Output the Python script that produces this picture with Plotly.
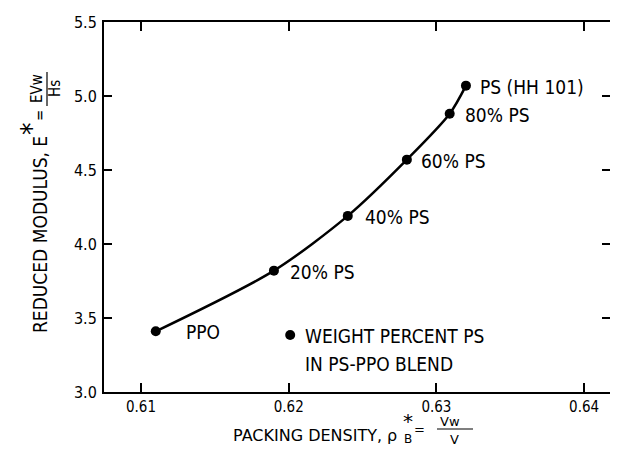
import plotly.graph_objects as go

# ---- data ----
packing_density = [0.611, 0.619, 0.624, 0.628, 0.6309, 0.632]
reduced_modulus = [3.41, 3.82, 4.19, 4.57, 4.88, 5.07]
point_labels = ["PPO", "20% PS", "40% PS", "60% PS", "80% PS", "PS (HH 101)"]
legend_x = [0.6201]
legend_y = [3.385]
legend_lines = ["WEIGHT PERCENT PS", "IN PS-PPO BLEND"]
x_ticks = [0.61, 0.62, 0.63, 0.64]
x_tick_text = ["0.61", "0.62", "0.63", "0.64"]
y_ticks = [3.0, 3.5, 4.0, 4.5, 5.0, 5.5]
y_tick_text = ["3.0", "3.5", "4.0", "4.5", "5.0", "5.5"]

# ---- layout geometry (page has an 8px body margin; visible width ends at 610) ----
OFF = 8
W, H = 610 - OFF, 476 - 2 * OFF
ML, MT = 104 - OFF, 22 - OFF
MR = 0
MB = H - (392 - OFF)
PW, PH = W - ML - MR, H - MT - MB


def px(x):  # page pixel -> paper
    return (x - 104) / PW


def py(y):
    return (392 - y) / PH


LBL = "DejaVu Sans Condensed"
TTL = "DejaVu Sans"
label_shift = [28, 14, 15, 12, 13, 12]

fig = go.Figure()
fig.add_trace(go.Scatter(
    x=packing_density, y=reduced_modulus, mode="lines+markers",
    line=dict(color="black", width=2.5, shape="spline", smoothing=0.8),
    marker=dict(color="black", size=10), showlegend=False, hoverinfo="skip"))
fig.add_trace(go.Scatter(
    x=legend_x, y=legend_y, mode="markers", yaxis="y2",
    marker=dict(color="black", size=10), showlegend=False, hoverinfo="skip"))

ann = []
for xv, yv, t, s in zip(packing_density, reduced_modulus, point_labels, label_shift):
    ann.append(dict(x=xv, y=yv, text=t, showarrow=False, xanchor="left",
                    yanchor="middle", xshift=s, yshift=-1,
                    font=dict(family=LBL, size=19, color="black")))
for i, t in enumerate(legend_lines):
    ann.append(dict(x=legend_x[0], y=legend_y[0], text=t, showarrow=False,
                    xanchor="left", yanchor="middle", xshift=13, yshift=-1 - 28 * i,
                    font=dict(family=LBL, size=19, color="black")))


def pa(x, y, t, size, family=TTL, xanchor="center", angle=0):
    ann.append(dict(x=px(x), y=py(y), xref="paper", yref="paper", text=t,
                    showarrow=False, xanchor=xanchor, yanchor="middle",
                    textangle=angle, font=dict(family=family, size=size, color="black")))


# x-axis title pieces
pa(399, 435, "PACKING DENSITY, ρ", 16, xanchor="right")
pa(408, 421, "*", 20)
pa(408, 439, "B", 12)
pa(419, 429, "=", 13)
pa(450, 421, "Vw", 13)
pa(454, 439, "V", 13)

# y-axis title pieces (rotated)
pa(40, 235, "REDUCED MODULUS, E", 19, family=LBL, angle=-90)
pa(31, 129, "*", 28, family=LBL, angle=-90)
pa(40, 116, "=", 15, family=LBL, angle=-90)
pa(37, 89, "EVw", 15, family=LBL, angle=-90)
pa(55, 89, "Hs", 15, family=LBL, angle=-90)

shapes = [
    dict(type="line", xref="paper", yref="paper", x0=px(437), x1=px(473),
         y0=py(429), y1=py(429), line=dict(color="black", width=1.2)),
    dict(type="line", xref="paper", yref="paper", x0=px(47), x1=px(47),
         y0=py(72), y1=py(106), line=dict(color="black", width=1.2)),
]

fig.update_layout(
    width=W, height=H, autosize=False,
    margin=dict(l=ML, r=MR, t=MT, b=MB, autoexpand=False),
    paper_bgcolor="white", plot_bgcolor="white",
    annotations=ann, shapes=shapes,
    xaxis=dict(range=[0.61 - 37 / 14770, 0.61 + 469 / 14770],
               tickvals=x_ticks, ticktext=x_tick_text,
               ticks="inside", ticklen=9, tickwidth=1.5, tickcolor="black",
               showline=True, linecolor="black", linewidth=2, mirror="ticks",
               showgrid=False, zeroline=False,
               tickfont=dict(family=LBL, size=15, color="black")),
    yaxis=dict(range=[3.0, 5.5], tickvals=y_ticks, ticktext=y_tick_text,
               ticks="inside", ticklen=8, tickwidth=1.5, tickcolor="black",
               showline=True, linecolor="black", linewidth=2, mirror=False,
               showgrid=False, zeroline=False, ticklabelstandoff=2,
               tickfont=dict(family=LBL, size=16, color="black")),
    yaxis2=dict(range=[3.0, 5.5], tickvals=y_ticks, overlaying="y", side="right",
                anchor="x", ticks="inside", ticklen=8, tickwidth=1.5,
                tickcolor="black", showticklabels=False, showline=False,
                showgrid=False, zeroline=False),
)

fig.write_html("out.html")
